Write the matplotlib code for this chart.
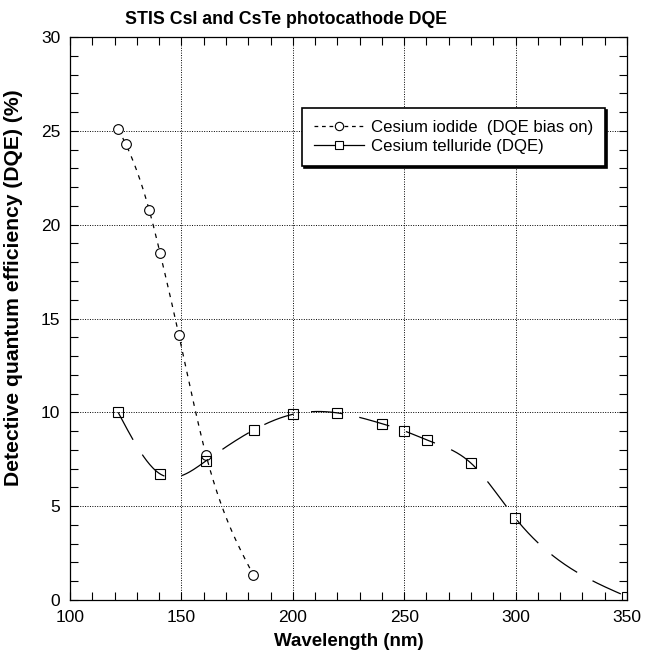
import numpy as np
import matplotlib
matplotlib.use("Agg")
import matplotlib.pyplot as plt
from matplotlib.ticker import MultipleLocator

# Data
csi_wl = [121.6, 125.0, 135.5, 140.4, 148.9, 161.0, 182.3]
csi_dqe = [25.1, 24.3, 20.8, 18.5, 14.1, 7.75, 1.33]
cste_wl = [121.6, 140.4, 161.0, 182.6, 200.2, 220.0, 240.2, 250.1, 260.1, 280.0, 299.9, 350.0]
cste_dqe = [10.0, 6.72, 7.41, 9.07, 9.9, 9.97, 9.39, 9.01, 8.53, 7.29, 4.36, 0.18]

title = "STIS CsI and CsTe photocathode DQE"
xlabel = "Wavelength (nm)"
ylabel = "Detective quantum efficiency (DQE) (%)"
label_csi = "Cesium iodide  (DQE bias on)"
label_cste = "Cesium telluride (DQE)"


def natural_spline(x, y, n=500):
    x = np.asarray(x, float)
    y = np.asarray(y, float)
    k = len(x)
    h = np.diff(x)
    A = np.zeros((k, k))
    b = np.zeros(k)
    A[0, 0] = 1
    A[-1, -1] = 1
    for i in range(1, k - 1):
        A[i, i - 1] = h[i - 1]
        A[i, i] = 2 * (h[i - 1] + h[i])
        A[i, i + 1] = h[i]
        b[i] = 6 * ((y[i + 1] - y[i]) / h[i] - (y[i] - y[i - 1]) / h[i - 1])
    M = np.linalg.solve(A, b)
    xs = np.linspace(x[0], x[-1], n)
    idx = np.clip(np.searchsorted(x, xs) - 1, 0, k - 2)
    x0, x1 = x[idx], x[idx + 1]
    hh = x1 - x0
    t0 = x1 - xs
    t1 = xs - x0
    ys = (M[idx] * t0**3 + M[idx + 1] * t1**3) / (6 * hh) \
        + (y[idx] / hh - M[idx] * hh / 6) * t0 \
        + (y[idx + 1] / hh - M[idx + 1] * hh / 6) * t1
    return xs, ys


plt.rcParams['font.family'] = ['Liberation Sans', 'DejaVu Sans']

fig = plt.figure(figsize=(6.45, 6.54), dpi=100)
ax = fig.add_axes([70 / 645, 1 - 600 / 654, 557 / 645, 563 / 654])

sx, sy = natural_spline(csi_wl, csi_dqe)
ax.plot(sx, sy, color='black', lw=0.9, dashes=(3.6, 4.5))
ax.plot(csi_wl, csi_dqe, ls='none', marker='o', ms=7, mfc='white',
        mec='black', mew=0.8)

tx, ty = natural_spline(cste_wl, cste_dqe)
ax.plot(tx, ty, color='black', lw=0.9, dashes=(25, 14))
ax.plot(cste_wl, cste_dqe, ls='none', marker='s', ms=6.5, mfc='none',
        mec='black', mew=0.8)

# legend proxies
h1, = ax.plot([], [], color='black', lw=0.9, dashes=(3, 3), marker='o',
              ms=6, mfc='white', mec='black', mew=0.8)
h2, = ax.plot([], [], color='black', lw=0.9, ls='-', marker='s',
              ms=6, mfc='white', mec='black', mew=0.8)

ax.set_xlim(100, 350)
ax.set_ylim(0, 30)
ax.xaxis.set_major_locator(MultipleLocator(50))
ax.xaxis.set_minor_locator(MultipleLocator(10))
ax.yaxis.set_major_locator(MultipleLocator(5))
ax.yaxis.set_minor_locator(MultipleLocator(1))
ax.tick_params(which='both', direction='in', top=True, right=True,
               length=6, width=0.8, labelsize=12.5, pad=7)
ax.grid(True, which='major', color='black', ls=(0, (1, 1.5)), lw=0.7)
for s in ax.spines.values():
    s.set_linewidth(0.9)

leg = ax.legend([h1, h2], [label_csi, label_cste], loc='upper left',
                bbox_to_anchor=(0.4165, 0.874), borderaxespad=0,
                fancybox=False, framealpha=1, edgecolor='black',
                fontsize=12.1, handlelength=3, handletextpad=0.4,
                labelspacing=0.25, borderpad=0.7,
                shadow={'color': 'black', 'alpha': 1, 'ox': 1.5, 'oy': -1.5})
leg.get_frame().set_linewidth(1.2)

fig.text(286 / 645, 1 - 19 / 654, title, ha='center', va='center',
         fontsize=12.8, fontweight='bold')
fig.text(349 / 645, 1 - 642 / 654, xlabel, ha='center', va='center',
         fontsize=13.5, fontweight='bold')
fig.text(14 / 645, 1 - 288 / 654, ylabel, ha='center', va='center',
         rotation=90, fontsize=15.2, fontweight='bold')

fig.savefig('out.png', dpi=100)
